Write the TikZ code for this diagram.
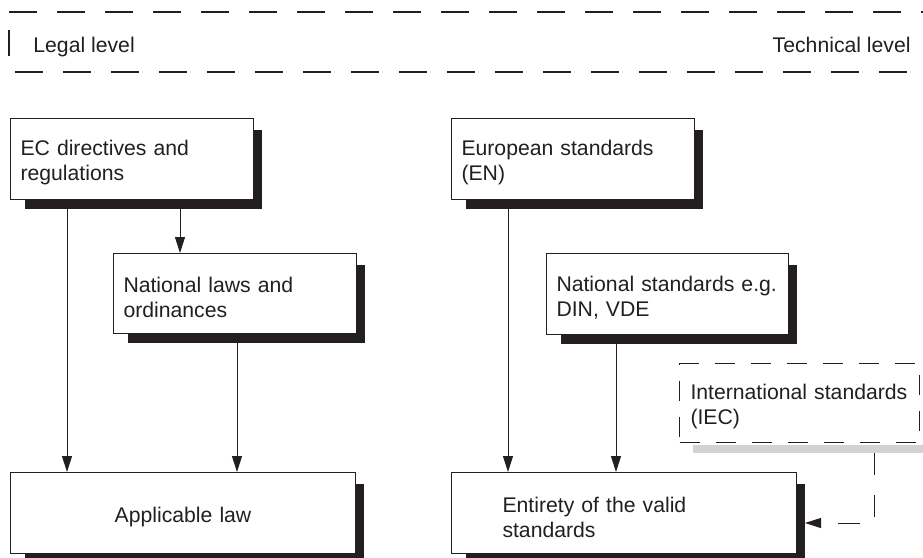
\documentclass[tikz,border=0pt]{standalone}
\usepackage{fontspec}
\setmainfont{Liberation Sans}
\usetikzlibrary{arrows.meta}
\usetikzlibrary{backgrounds}

\definecolor{ink}{HTML}{231F20}

\tikzset{
  box/.style={draw=ink, line width=0.5pt, fill=white, rectangle,
    anchor=north west, inner xsep=5pt, inner ysep=0pt,
    minimum height=40.5pt, text width=111.5pt, align=left,
    text=ink, font=\fontsize{10.6}{12.5}\selectfont,
    execute at begin node={\rule{0pt}{11.6pt}}},
  widebox/.style={box, minimum width=172.5pt},
  dashbox/.style={box, dash pattern=on 10pt off 8pt},
  link/.style={draw=ink, line width=0.5pt,
    -{Triangle[length=8pt,width=5pt]}},
  dashlink/.style={link, dash pattern=on 11pt off 10pt},
  hdash/.style={draw=ink, line width=0.6pt, dash pattern=on 14pt off 10pt},
  lvl/.style={inner sep=0pt, text=ink, font=\fontsize{10.6}{12.5}\selectfont}
}

\newcommand{\dropshadow}[1]{%
  \fill[ink] ([shift={(15,9)}]#1.south west) rectangle ([shift={(8,12)}]#1.north east);}

\begin{document}
\begin{tikzpicture}[x=0.5pt, y=-0.5pt]
\useasboundingbox (0,0) rectangle (923,558);

% header
\draw[hdash] (9,12) -- (923,12);
\draw[hdash] (15,72) -- (923,72);
\draw[ink, line width=0.6pt] (9,30) -- (9,56);
\node[lvl, anchor=base west] (legal) at (33,52) {Legal level};
\node[lvl, anchor=base east] (technical) at (911,52) {Technical level};

% legal side
\node[box] (ec) at (10,118) {EC directives and\\regulations};
\node[box, minimum height=40pt] (natlaw) at (113,253) {National laws and\\ordinances};
\node[widebox, align=center] (applaw) at (10,472) {Applicable law};

% technical side
\node[box] (en) at (451,118) {European standards\\(EN)};
\node[box, text width=111pt] (natstd) at (546,253) {National standards e.g.\\DIN, VDE};
\node[dashbox, text width=109pt, minimum width=120pt, minimum height=39.5pt] (intl) at (679,363)
  {International standards\\(IEC)};
\node[widebox, text width=121.5pt] (ent) at (451,472) {Entirety of the valid\\standards};

\begin{scope}[on background layer]
  \dropshadow{ec}
  \dropshadow{natlaw}
  \dropshadow{applaw}
  \dropshadow{en}
  \dropshadow{natstd}
  \dropshadow{ent}
  \fill[gray!35] ([shift={(14,2)}]intl.south west) rectangle ([shift={(4,10)}]intl.south east);
\end{scope}

% arrows
\draw[link] ([xshift=28.5pt]ec.south west) -- ([xshift=28.5pt]applaw.north west);
\draw[link] ([xshift=85pt]ec.south west) -- ([xshift=85pt]ec.south west |- natlaw.north);
\draw[link] ([xshift=62pt]natlaw.south west) -- ([xshift=62pt]natlaw.south west |- applaw.north);
\draw[link] ([xshift=28.5pt]en.south west) -- ([xshift=28.5pt]ent.north west);
\draw[link] ([xshift=35pt]natstd.south west) -- ([xshift=35pt]natstd.south west |- ent.north);
\draw[dashlink] ([shift={(-46,10)}]intl.south east) |- ([shift={(8,10)}]ent.east);
\end{tikzpicture}
\end{document}
